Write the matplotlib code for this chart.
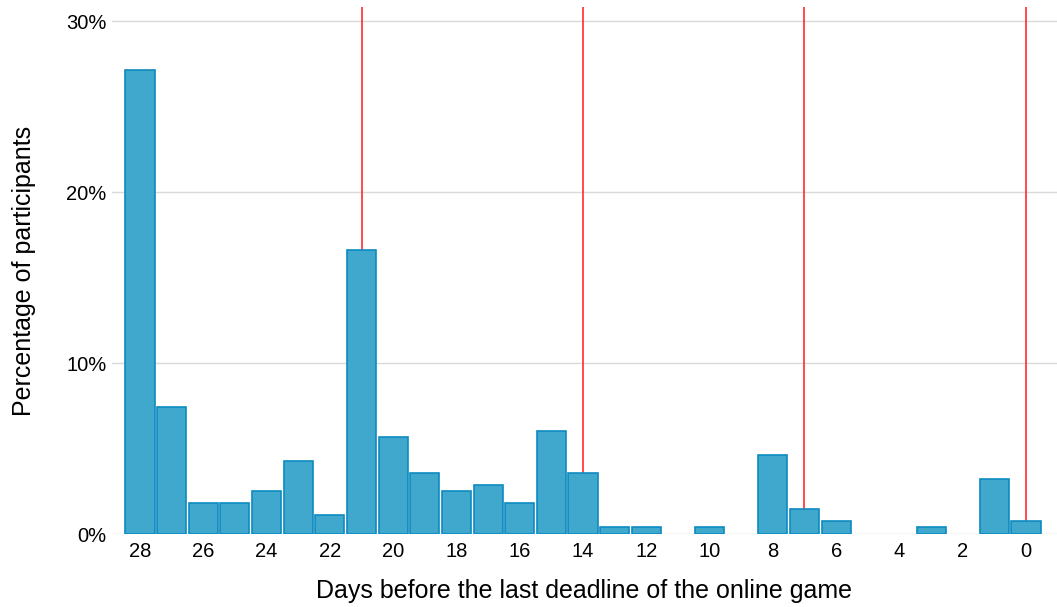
import matplotlib
matplotlib.use("Agg")
import matplotlib.pyplot as plt
from matplotlib.ticker import FuncFormatter

plt.rcParams['font.family'] = ['Liberation Sans', 'DejaVu Sans']

days = list(range(28, -1, -1))
percent = [27.13, 7.43, 1.81, 1.81, 2.51, 4.27, 1.11, 16.6, 5.67, 3.57,
           2.51, 2.87, 1.81, 6.02, 3.57, 0.40, 0.40, 0.0, 0.40, 0.0,
           4.62, 1.46, 0.76, 0.0, 0.0, 0.40, 0.0, 3.22, 0.76]
deadlines = [21, 14, 7, 0]
xticks = list(range(28, -1, -2))
yticks = [0, 10, 20, 30]

fig = plt.figure(figsize=(10.57, 6.07), dpi=100)
ax = fig.add_axes([112/1057, (607-534)/607, 945/1057, 527/607])

for d in deadlines:
    ax.axvline(d, color='#ff1a1a', lw=1.1, zorder=1)

bx = [d for d, p in zip(days, percent) if p > 0]
by = [p for p in percent if p > 0]
ax.bar(bx, by, width=0.92, color='#40a8cd', edgecolor='#0d8bc0',
       linewidth=1.2, zorder=2)

ax.set_xlim(28.885, -0.98)
ax.set_ylim(0, 30.82)
ax.set_xticks(xticks)
ax.set_yticks(yticks)
ax.yaxis.set_major_formatter(FuncFormatter(lambda v, p: f"{int(v)}%"))
ax.grid(axis='y', color='#d9d9d9', lw=1, zorder=0)
ax.set_axisbelow(True)
for s in ax.spines.values():
    s.set_visible(False)
ax.tick_params(axis='both', length=0, labelsize=14.5, colors='black')
ax.tick_params(axis='x', pad=6)
ax.tick_params(axis='y', pad=4)
ax.set_xlabel("Days before the last deadline of the online game", fontsize=18, labelpad=13)
ax.set_ylabel("Percentage of participants", fontsize=18, labelpad=22)

fig.savefig("out.png", dpi=100)
